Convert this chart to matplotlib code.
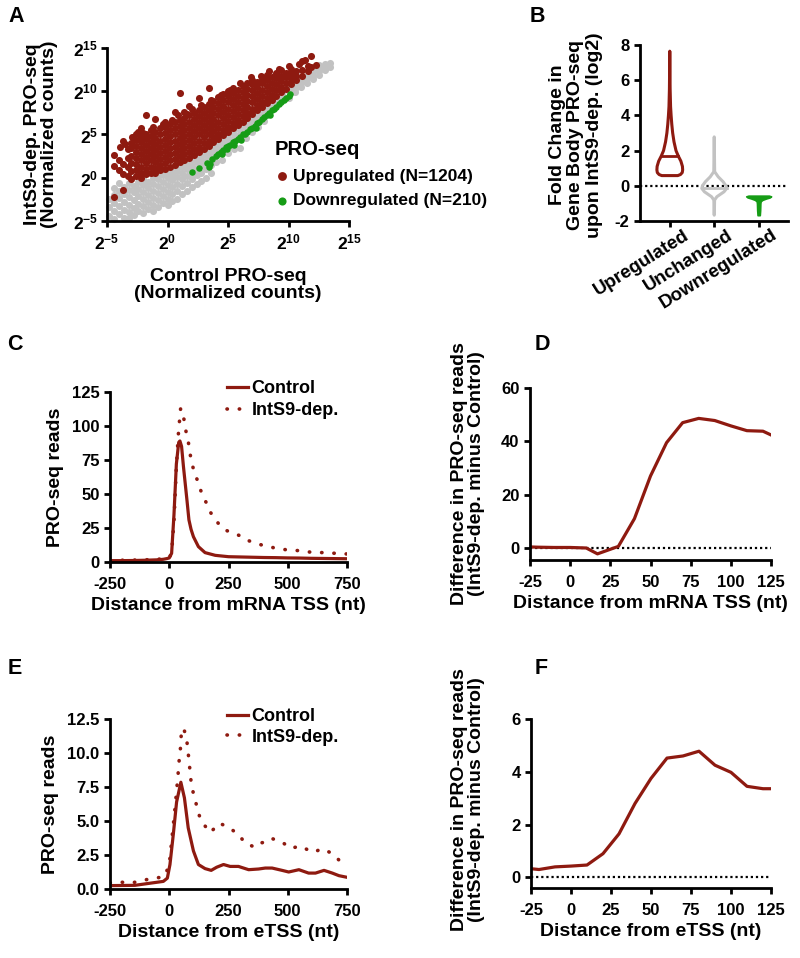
import numpy as np
import matplotlib
matplotlib.use('Agg')
import matplotlib.pyplot as plt
from matplotlib.ticker import FormatStrFormatter
from matplotlib.transforms import ScaledTranslation

plt.rcParams['font.family'] = ['Liberation Sans', 'DejaVu Sans']
plt.rcParams['font.weight'] = 'bold'
plt.rcParams['axes.labelweight'] = 'bold'
plt.rcParams['axes.unicode_minus'] = False
plt.rcParams['mathtext.fontset'] = 'custom'
plt.rcParams['mathtext.rm'] = 'Liberation Sans:bold'
plt.rcParams['mathtext.bf'] = 'Liberation Sans:bold'
plt.rcParams['mathtext.it'] = 'Liberation Sans:bold'
plt.rcParams['mathtext.default'] = 'rm'

RED = '#8E1A10'
GREEN = '#169C16'
GREY = '#C2C2C2'

# ---------------- panel A data (log2 normalized counts) ----------------
gray_cols = [-4.8, -4.4, -4.0, -3.6, -3.2, -2.8, -2.4, -2.0, -1.6, -1.2, -0.8, -0.4,
             0.0, 0.4, 0.8, 1.2, 1.6, 2.0, 2.4, 2.8, 3.2, 3.6, 4.0, 4.5, 5.0, 5.5,
             6.0, 6.5, 7.0, 7.5, 8.0, 8.5, 9.0, 9.5, 10.0, 10.5, 11.0, 11.5, 12.0,
             12.5, 13.0, 13.4]
gray_rows = [[-4.4, -3.4, -2.4], [-4.8, -3.9, -2.9, -2.0, -1.2], [-4.2, -3.3, -2.3, -1.5, -0.6],
             [-4.6, -3.7, -2.8, -1.9, -1.1], [-4.7, -4.0, -3.1, -2.2, -1.4, -0.6],
             [-4.3, -3.5, -2.6, -1.7, -0.9], [-3.9, -3.0, -2.1, -1.3, -0.5],
             [-4.1, -3.3, -2.5, -1.6, -0.8, -0.1], [-3.6, -2.8, -2.0, -1.2, -0.5],
             [-3.8, -3.1, -2.3, -1.5, -0.7, 0.0], [-3.4, -2.6, -1.8, -1.0, -0.2, 0.4],
             [-2.9, -2.1, -1.3, -0.5, 0.3], [-3.2, -2.4, -1.6, -0.8, 0.0, 0.7],
             [-2.7, -1.9, -1.1, -0.3, 0.4, 1.0], [-2.4, -1.5, -0.7, 0.1, 0.8, 1.3],
             [-1.9, -1.0, -0.2, 0.6, 1.2], [-1.5, -0.6, 0.2, 1.0, 1.6],
             [-1.1, -0.2, 0.6, 1.4, 2.0], [-0.7, 0.3, 1.0, 1.8, 2.4],
             [-0.4, 0.6, 1.5, 2.2, 2.8], [0.0, 1.0, 1.9, 2.6, 3.2], [0.6, 1.5, 2.3, 3.0, 3.6],
             [1.8, 2.9, 3.4, 3.9], [2.1, 3.5, 4.0, 4.5], [2.9, 4.1, 4.6, 5.0],
             [3.3, 4.6, 5.1, 5.5], [3.4, 5.1, 5.6, 6.0], [4.6, 5.7, 6.1, 6.5],
             [5.3, 6.2, 6.7, 7.0], [5.9, 6.8, 7.2, 7.6], [6.6, 7.4, 7.8, 8.2],
             [7.9, 8.3, 8.7], [8.5, 8.9, 9.3], [9.1, 9.5, 9.8], [9.2, 10.0, 10.4],
             [9.9, 10.3, 10.7, 11.0], [10.5, 10.9, 11.3], [11.0, 11.4, 11.8],
             [11.4, 11.8, 12.2, 12.5], [11.9, 12.3, 12.7, 13.0], [12.5, 12.9, 13.2],
             [12.8, 13.3]]

red_cols = [-4.4, -4.0, -3.7, -3.3, -3.0, -2.6, -2.2, -1.8, -1.4, -1.0, -0.6, -0.2,
            0.2, 0.6, 1.0, 1.4, 1.8, 2.2, 2.6, 3.0, 3.4, 3.8, 4.2, 4.6, 5.0, 5.4,
            5.8, 6.2, 6.6, 7.0, 7.4, 7.8, 8.2, 8.6, 9.0, 9.4, 9.8, 10.2, 10.6,
            11.1, 11.6, 11.9, 12.3]
red_rows = [[-2.2, 1.4, 2.6], [0.9, 2.0], [-1.4, 0.4, 1.6, 4.2],
            [0.2, 1.3, 2.3, 3.3], [-0.1, 0.8, 1.7, 2.5, 3.4, 4.0],
            [0.2, 0.9, 1.6, 2.3, 3.0, 3.7, 4.4, 5.0], [0.0, 0.6, 1.3, 2.0, 2.7, 3.4, 4.1, 4.7, 5.8],
            [0.4, 1.0, 1.7, 2.4, 3.1, 3.8, 4.5, 5.1, 7.3], [0.6, 1.3, 2.0, 2.7, 3.4, 4.1, 4.8, 5.5],
            [0.5, 1.1, 1.8, 2.5, 3.2, 3.9, 4.6, 5.3, 6.8], [0.9, 1.5, 2.2, 2.9, 3.6, 4.3, 5.0, 5.7],
            [1.0, 1.7, 2.4, 3.1, 3.8, 4.5, 5.2, 5.9, 6.5], [1.3, 2.0, 2.7, 3.4, 4.1, 4.8, 5.5, 6.2],
            [1.5, 2.2, 2.9, 3.6, 4.3, 5.0, 5.7, 6.4, 7.6], [1.8, 2.5, 3.2, 3.9, 4.6, 5.3, 6.0, 6.7, 9.8],
            [2.0, 2.7, 3.4, 4.1, 4.8, 5.5, 6.2, 6.9, 7.6], [2.3, 3.0, 3.7, 4.4, 5.1, 5.8, 6.5, 7.2, 8.3],
            [2.6, 3.3, 4.0, 4.7, 5.4, 6.1, 6.8, 7.5], [3.0, 3.6, 4.3, 5.0, 5.7, 6.4, 7.1, 7.8, 9.2],
            [3.3, 4.0, 4.7, 5.4, 6.1, 6.8, 7.5, 8.2], [3.7, 4.3, 5.0, 5.7, 6.4, 7.1, 7.8, 8.5, 10.4],
            [4.1, 4.7, 5.4, 6.1, 6.8, 7.5, 8.2, 8.9], [4.5, 5.1, 5.8, 6.5, 7.2, 7.9, 8.6, 9.3],
            [4.9, 5.5, 6.2, 6.9, 7.6, 8.3, 9.0, 9.7], [5.3, 5.9, 6.6, 7.3, 8.0, 8.7, 9.4, 10.0],
            [5.7, 6.3, 7.0, 7.7, 8.4, 9.1, 9.8, 10.4], [6.1, 6.7, 7.4, 8.1, 8.8, 9.5, 10.2],
            [6.5, 7.1, 7.8, 8.5, 9.2, 9.9, 10.6], [6.9, 7.5, 8.2, 8.9, 9.6, 10.3, 10.9],
            [7.4, 8.0, 8.7, 9.4, 10.1, 10.8, 11.3], [7.8, 8.4, 9.1, 9.8, 10.5, 11.1],
            [8.2, 8.8, 9.5, 10.2, 10.9, 11.5], [8.6, 9.2, 9.9, 10.6, 11.3, 11.9],
            [9.0, 9.6, 10.3, 11.0, 11.6], [9.5, 10.1, 10.8, 11.5, 12.1],
            [9.9, 10.5, 11.2, 11.8, 12.4], [10.3, 10.9, 11.6, 12.1], [10.8, 11.4, 12.0, 12.6],
            [11.3, 11.8, 12.3], [11.8, 12.4, 13.5], [12.3, 12.9], [12.8, 14.1], [13.0]]

# a few scattered points off the main columns
red_extra_x = [-3.9, -3.5, -2.9, -2.4, -2.0, -1.2, -0.4, 0.4, 0.9, 1.6, 2.0, 2.8, 3.6,
               4.4, 5.2, 6.0, 6.9, 7.7, 8.4, 9.2, 10.0, 10.9, 11.4]
red_extra_y = [3.6, 3.9, 4.7, 5.3, 5.2, 5.9, 6.2, 6.7, 7.2, 7.4, 8.0, 8.4, 9.0, 9.6,
               10.2, 10.9, 11.6, 11.8, 12.3, 12.6, 12.9, 13.1, 13.6]

green_x = [2.0, 2.6, 3.3, 3.4, 3.5, 3.7, 4.0, 4.2, 4.4, 4.5, 4.6, 4.8, 4.9, 5.0, 5.2, 5.4,
           5.5, 5.6, 5.8, 6.0, 6.1, 6.2, 6.4, 6.6, 6.8, 7.0, 7.2, 7.3, 7.4, 7.6, 7.8, 8.0,
           8.2, 8.4, 8.5, 8.6, 8.8, 9.0, 9.2, 9.4, 9.6, 9.8, 10.0, 10.1]
green_y = [0.7, 1.1, 1.7, 1.2, 1.6, 2.2, 2.5, 2.8, 3.0, 2.7, 3.2, 3.5, 3.3, 3.7, 3.8, 4.1,
           3.8, 4.3, 4.5, 4.7, 4.4, 5.0, 5.1, 5.3, 5.6, 5.8, 6.0, 5.8, 6.3, 6.5, 6.8, 7.0,
           7.3, 7.5, 7.2, 7.8, 8.0, 8.2, 8.5, 8.7, 9.0, 9.2, 9.5, 9.7]

# ---------------- panel B violin profiles (y, half width) ----------------
violin_names = ['Upregulated', 'Unchanged', 'Downregulated']
up_y = [0.58, 0.64, 0.75, 0.9, 1.1, 1.4, 1.7, 2.0, 2.5, 3.0, 3.5, 4.0, 4.5, 5.5, 6.5, 7.65]
up_w = [0.18, 0.24, 0.28, 0.29, 0.285, 0.25, 0.19, 0.14, 0.095, 0.065, 0.045, 0.03, 0.018, 0.008, 0.004, 0.0]
up_median = 1.7
unch_y = [-1.67, -1.5, -0.81, -0.62, -0.34, -0.15, 0.0, 0.23, 0.51, 0.8, 2.0, 2.78]
unch_w = [0.0, 0.004, 0.008, 0.06, 0.22, 0.28, 0.265, 0.2, 0.09, 0.01, 0.004, 0.0]
unch_median = -0.15
down_y = [-1.67, -1.4, -1.0, -0.88, -0.8, -0.72, -0.66, -0.6, -0.56]
down_w = [0.025, 0.033, 0.038, 0.045, 0.085, 0.17, 0.25, 0.28, 0.23]

# ---------------- panel C: mRNA TSS metaprofile ----------------
c_ctrl_x = [-250, -200, -150, -100, -50, -25, -10, 0, 10, 20, 30, 40, 45, 52, 60, 66, 75, 83,
            92, 102, 123, 151, 194, 250, 300, 350, 400, 450, 500, 550, 600, 650, 700, 750]
c_ctrl_y = [1.0, 1.0, 1.1, 1.3, 1.6, 2.0, 2.5, 3.0, 6.4, 35, 72, 88, 89, 85, 70, 60, 45, 31,
            24, 18.6, 11.3, 6.9, 4.9, 3.9, 3.7, 3.5, 3.3, 3.2, 3.0, 2.9, 2.7, 2.6, 2.5, 2.4]
c_dep_x = [-250, -200, -150, -100, -50, -25, 0, 10, 20, 30, 37, 40, 44, 48, 52, 62, 68, 79,
           86, 93, 106, 121, 136, 155, 174, 199, 230, 271, 311, 334, 390, 453, 502, 553,
           602, 650, 700, 750]
c_dep_y = [1.2, 1.3, 1.4, 1.6, 2.0, 2.4, 3.0, 7, 30, 70, 90, 98, 105, 113, 110, 105, 98, 90,
           82, 74, 66, 59, 51, 44, 36.5, 30, 24, 21, 18.6, 15.7, 12.5, 10, 8.8, 8.3,
           7.1, 6.9, 6.4, 5.9]

# ---------------- panel D: difference, mRNA TSS ----------------
d_x = [-25, -20, -10, 0, 10, 17, 30, 40, 50, 60, 70, 80, 90, 100, 110, 120, 125]
d_y = [0.4, 0.3, 0.2, 0.2, 0.0, -2.2, 0.6, 11, 27, 39.5, 47, 48.6, 47.8, 45.8, 44, 43.8, 42.4]

# ---------------- panel E: eTSS metaprofile ----------------
e_ctrl_x = [-250, -244, -145, -75, -25, -8, 3, 17, 31, 49, 64, 80, 102, 123, 151, 177, 200,
            229, 257, 292, 335, 377, 405, 434, 476, 504, 547, 588, 617, 653, 688, 716, 750]
e_ctrl_y = [0.25, 0.25, 0.27, 0.44, 0.56, 0.8, 1.8, 4.0, 6.4, 7.85, 6.7, 4.5, 2.8, 1.8, 1.5,
            1.37, 1.6, 1.8, 1.66, 1.66, 1.42, 1.47, 1.54, 1.54, 1.37, 1.25, 1.42, 1.17, 1.17,
            1.37, 1.17, 0.98, 0.86]
e_dep_x = [-250, -209, -160, -117, -72, -25, -4, 3, 10, 17, 24, 31, 38, 42, 47, 52, 61, 73,
           78, 83, 92, 102, 113, 124, 144, 172, 193, 212, 254, 292, 321, 363, 390, 424, 435,
           476, 511, 556, 582, 607, 646, 684, 716, 750]
e_dep_y = [0.45, 0.51, 0.44, 0.61, 0.78, 0.88, 1.54, 2.27, 3.5, 4.7, 5.9, 7.2, 8.6, 9.5, 10.3,
           11.75, 11.8, 11.1, 10.3, 9.5, 7.9, 7.0, 6.3, 5.5, 4.8, 4.15, 4.5, 4.84, 4.5, 4.0,
           3.37, 3.06, 3.4, 3.5, 3.7, 3.45, 3.0, 3.15, 2.9, 2.7, 2.96, 2.64, 2.13, 2.0]

# ---------------- panel F: difference, eTSS ----------------
f_x = [-25, -20, -10, 0, 10, 20, 30, 40, 50, 60, 70, 80, 90, 100, 110, 120, 125]
f_y = [0.33, 0.3, 0.4, 0.43, 0.47, 0.9, 1.65, 2.8, 3.75, 4.52, 4.6, 4.78, 4.25, 3.98, 3.45, 3.36, 3.36]

W, H = 800, 958
fig = plt.figure(figsize=(W / 100, H / 100), dpi=100)


def box(l, t, r, b):
    return [l / W, 1 - b / H, (r - l) / W, (b - t) / H]


def style(ax, xpad=6, ypad=3):
    for s in ['top', 'right']:
        ax.spines[s].set_visible(False)
    for s in ['left', 'bottom']:
        ax.spines[s].set_linewidth(2.0)
    ax.tick_params(width=2.0, length=4.5, labelsize=12)
    ax.tick_params(axis='x', pad=xpad)
    ax.tick_params(axis='y', pad=ypad)
    ax.patch.set_alpha(0)


def ftext(x, y, s, **kw):
    fig.text(x / W, 1 - y / H, s, **kw)


dot_style = (0, (0.1, 3.3))
zero_style = (0, (1, 1.3))

# ---- A ----
axA = fig.add_axes(box(107, 48, 349, 221))
style(axA, xpad=4, ypad=2)
gx = [x for x, ys in zip(gray_cols, gray_rows) for _ in ys]
gy = [y for ys in gray_rows for y in ys]
rx = [x for x, ys in zip(red_cols, red_rows) for _ in ys] + red_extra_x
ry = [y for ys in red_rows for y in ys] + red_extra_y
axA.scatter(gx, gy, s=26, color=GREY, linewidths=0, clip_on=False)
hr = axA.scatter(rx, ry, s=26, color=RED, linewidths=0, clip_on=False)
hg = axA.scatter(green_x, green_y, s=22, color=GREEN, linewidths=0, clip_on=False)
ticks = [-5, 0, 5, 10, 15]
labs = [r'$2^{%d}$' % t for t in ticks]
axA.set_xlim(-5, 15)
axA.set_ylim(-5, 15)
axA.set_xticks(ticks)
axA.set_xticklabels(labs, fontsize=12.5)
axA.set_yticks(ticks)
axA.set_yticklabels(labs, fontsize=12.5)
leg = axA.legend([hr, hg], ['Upregulated (N=1204)', 'Downregulated (N=210)'],
                 title='PRO-seq', loc='upper left', bbox_to_anchor=(275 / W, 1 - 140 / H),
                 bbox_transform=fig.transFigure, frameon=False, borderpad=0,
                 borderaxespad=0, handlelength=0.8, handletextpad=0.25, labelspacing=0.55,
                 markerscale=1.25, fontsize=12.5, alignment='left',
                 title_fontproperties={'size': 14.5, 'weight': 'bold'})
ftext(41, 134, 'IntS9-dep. PRO-seq\n(Normalized counts)', rotation=90, ha='center',
      va='center', fontsize=14, linespacing=1.05)
ftext(228, 285, 'Control PRO-seq\n(Normalized counts)', ha='center', va='center',
      fontsize=14, linespacing=1.05)

# ---- B ----
axB = fig.add_axes(box(640, 45, 788, 221))
style(axB, xpad=3, ypad=3)
axB.set_xlim(-0.67, 2.66)
axB.set_ylim(-2, 8)
axB.plot([-0.67, 2.66], [0, 0], color='black', lw=1.6, linestyle=zero_style)
for c, ys, ws, col, filled in [(0, up_y, up_w, RED, False), (1, unch_y, unch_w, GREY, False),
                               (2, down_y, down_w, GREEN, True)]:
    ys = np.array(ys)
    ws = np.array(ws)
    axB.fill_betweenx(ys, c - ws, c + ws, facecolor=col if filled else 'none',
                      edgecolor=col, linewidth=2.2 if not filled else 1.2, zorder=3)
for c, ys, ws, med, col in [(0, up_y, up_w, up_median, RED), (1, unch_y, unch_w, unch_median, GREY)]:
    hw = np.interp(med, ys, ws)
    axB.plot([c - hw, c + hw], [med, med], color=col, lw=2.0, zorder=3)
axB.set_yticks([-2, 0, 2, 4, 6, 8])
axB.set_xticks([0, 1, 2])
axB.set_xticklabels(violin_names, rotation=32, ha='right', rotation_mode='anchor', fontsize=13.5)
shift = ScaledTranslation(0.13, 0.05, fig.dpi_scale_trans)
for lab in axB.get_xticklabels():
    lab.set_transform(lab.get_transform() + shift)
ftext(576, 135, 'Fold Change in\nGene Body PRO-seq\nupon IntS9-dep. (log2)', rotation=90,
      ha='center', va='center', fontsize=14, linespacing=1.15)

# ---- C ----
axC = fig.add_axes(box(110, 392, 347, 562))
style(axC)
axC.plot(c_ctrl_x, c_ctrl_y, color=RED, lw=2.3, label='Control', solid_joinstyle='round')
axC.plot(c_dep_x, c_dep_y, color=RED, lw=2.6, linestyle=dot_style, dash_capstyle='round',
         label='IntS9-dep.')
axC.set_xlim(-250, 750)
axC.set_ylim(0, 125)
axC.set_xticks([-250, 0, 250, 500, 750])
axC.set_yticks([0, 25, 50, 75, 100, 125])
axC.set_xlabel('Distance from mRNA TSS (nt)', fontsize=14, labelpad=4)
axC.set_ylabel('PRO-seq reads', fontsize=14, labelpad=6)
axC.legend(loc='upper left', bbox_to_anchor=(227 / W, 1 - 380 / H), bbox_transform=fig.transFigure,
           frameon=False, borderpad=0, borderaxespad=0, handlelength=1.15, handletextpad=0.2,
           labelspacing=0.3, fontsize=13)

# ---- D ----
axD = fig.add_axes(box(530, 388, 771, 560))
style(axD)
axD.plot([-25, 125], [0, 0], color='black', lw=1.6, linestyle=zero_style)
axD.plot(d_x, d_y, color=RED, lw=2.3)
axD.set_xlim(-25, 125)
axD.set_ylim(-4.5, 60)
axD.set_xticks([-25, 0, 25, 50, 75, 100, 125])
axD.set_yticks([0, 20, 40, 60])
axD.set_xlabel('Distance from mRNA TSS (nt)', fontsize=14, labelpad=4)
ftext(468, 474, 'Difference in PRO-seq reads\n(IntS9-dep. minus Control)', rotation=90,
      ha='center', va='center', fontsize=14, linespacing=1.05)

# ---- E ----
axE = fig.add_axes(box(110, 719, 347, 889))
style(axE)
axE.plot(e_ctrl_x, e_ctrl_y, color=RED, lw=2.3, label='Control', solid_joinstyle='round')
axE.plot(e_dep_x, e_dep_y, color=RED, lw=2.6, linestyle=dot_style, dash_capstyle='round',
         label='IntS9-dep.')
axE.set_xlim(-250, 750)
axE.set_ylim(0, 12.5)
axE.set_xticks([-250, 0, 250, 500, 750])
axE.set_yticks([0, 2.5, 5, 7.5, 10, 12.5])
axE.yaxis.set_major_formatter(FormatStrFormatter('%.1f'))
axE.set_xlabel('Distance from eTSS (nt)', fontsize=14, labelpad=4)
axE.set_ylabel('PRO-seq reads', fontsize=14, labelpad=6)
axE.legend(loc='upper left', bbox_to_anchor=(227 / W, 1 - 708 / H), bbox_transform=fig.transFigure,
           frameon=False, borderpad=0, borderaxespad=0, handlelength=1.15, handletextpad=0.2,
           labelspacing=0.2, fontsize=13)

# ---- F ----
axF = fig.add_axes(box(531, 719, 771, 888))
style(axF)
axF.plot([-25, 125], [0, 0], color='black', lw=1.6, linestyle=zero_style)
axF.plot(f_x, f_y, color=RED, lw=2.3)
axF.set_xlim(-25, 125)
axF.set_ylim(-0.4, 6)
axF.set_xticks([-25, 0, 25, 50, 75, 100, 125])
axF.set_yticks([0, 2, 4, 6])
axF.set_xlabel('Distance from eTSS (nt)', fontsize=14, labelpad=4)
ftext(468, 800, 'Difference in PRO-seq reads\n(IntS9-dep. minus Control)', rotation=90,
      ha='center', va='center', fontsize=14, linespacing=1.05)

# panel letters
for letter, x, y in [('A', 8, 16), ('B', 530, 16), ('C', 7, 345), ('D', 535, 345),
                     ('E', 8, 668), ('F', 535, 668)]:
    ftext(x, y, letter, fontsize=15.5, fontweight='bold', ha='left', va='center')

fig.savefig('out.png', dpi=100)
